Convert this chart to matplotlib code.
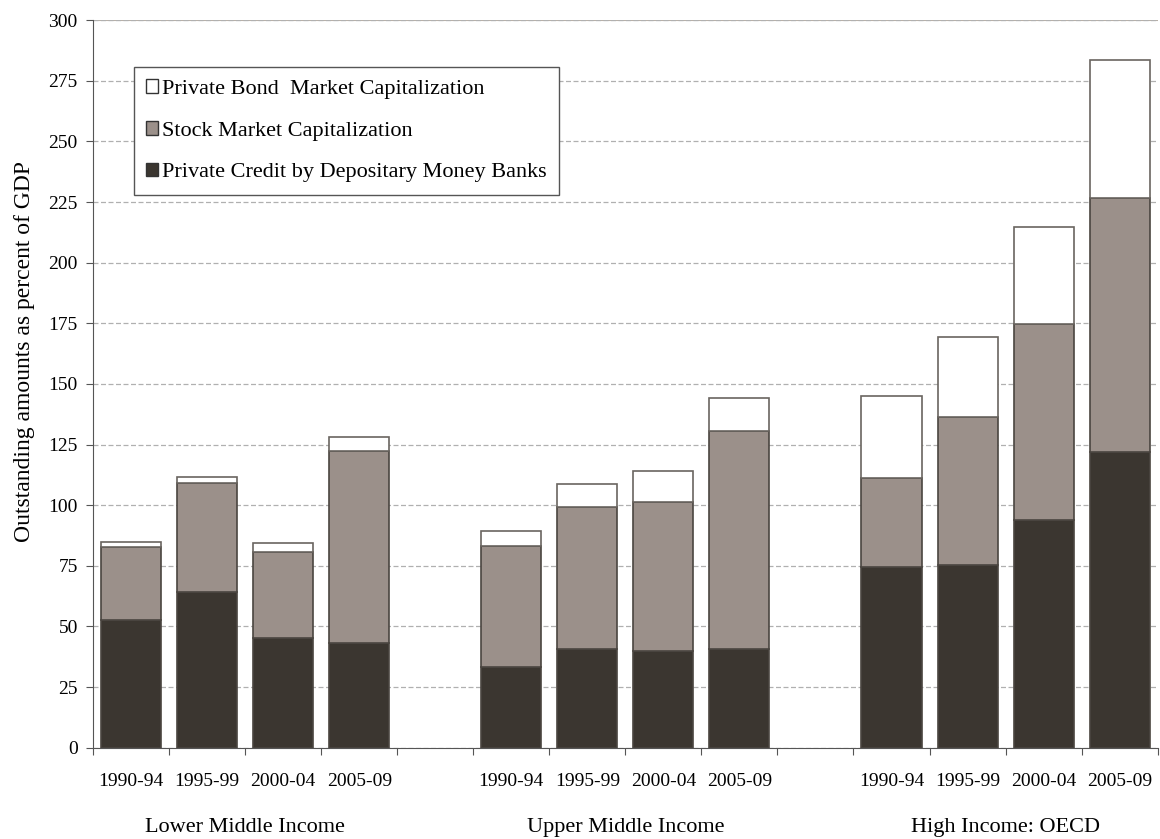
import matplotlib
matplotlib.use("Agg")
import matplotlib.pyplot as plt
import matplotlib.transforms as mtransforms
from matplotlib.patches import Patch

plt.rcParams['font.family'] = ['Liberation Serif', 'DejaVu Serif']

periods = ['1990-94', '1995-99', '2000-04', '2005-09']
groups = ['Lower Middle Income', 'Upper Middle Income', 'High Income: OECD']

# components, percent of GDP (4 periods per group)
credit = [52.7, 64.4, 45.1, 43.1, 33.2, 40.6, 40.0, 40.6, 74.7, 75.5, 93.8, 122.1]
stock = [30.0, 44.9, 35.8, 79.4, 50.0, 58.6, 61.4, 89.8, 36.7, 60.8, 81.1, 104.5]
bond = [2.3, 2.5, 3.7, 5.8, 6.2, 9.5, 12.9, 13.6, 33.7, 33.1, 39.9, 57.0]

c_credit = '#3b3630'
c_stock = '#9b908a'
c_bond = '#ffffff'
edge = '#4a4540'

# one empty category between the groups
xpos = []
for g in range(len(groups)):
    for p in range(len(periods)):
        xpos.append(g * 5 + p)

fig = plt.figure(figsize=(11.6, 8.39), dpi=100)
ax = fig.add_axes([0.0802, 0.1088, 0.9178, 0.8672])

w = 0.79
ax.bar(xpos, credit, w, color=c_credit, edgecolor=edge, linewidth=1.2, zorder=3)
ax.bar(xpos, stock, w, bottom=credit, color=c_stock, edgecolor=edge, linewidth=1.2, zorder=3)
bottom3 = [a + b for a, b in zip(credit, stock)]
ax.bar(xpos, bond, w, bottom=bottom3, color=c_bond, edgecolor='#6a6560', linewidth=1.2, zorder=3)

ax.set_xlim(-0.5, 13.5)
ax.set_ylim(0, 300)
ax.set_yticks(range(0, 301, 25))
ax.tick_params(axis='y', labelsize=14, length=5, color='#555555', pad=6)

# ticks at category boundaries, labels at bar centres
ax.set_xticks([i - 0.5 for i in range(15)])
ax.set_xticklabels([])
ax.set_xticks(xpos, minor=True)
ax.set_xticklabels(periods * 3, minor=True, fontsize=14)
ax.tick_params(axis='x', which='major', length=5, color='#555555')
ax.tick_params(axis='x', which='minor', length=0, pad=18)

ax.yaxis.grid(True, linestyle=(0, (4, 2)), color='#b0b0b0', linewidth=0.9, zorder=0)
for s in ['top', 'right']:
    ax.spines[s].set_visible(False)
ax.spines['left'].set_color('#555555')
ax.spines['bottom'].set_color('#555555')
ax.axhline(300, color='#b8b0a8', linewidth=1.5, zorder=1)

trans = mtransforms.blended_transform_factory(ax.transData, fig.transFigure)
for g, name in enumerate(groups):
    ax.text(g * 5 + 1.5, 0.0143, name, transform=trans, ha='center', va='center', fontsize=16)

fig.text(25 / 1160, 1 - 351 / 839, 'Outstanding amounts as percent of GDP',
         rotation=90, ha='center', va='center', fontsize=17)

handles = [Patch(facecolor=c_bond, edgecolor='#333333', label='Private Bond  Market Capitalization'),
           Patch(facecolor=c_stock, edgecolor='#333333', label='Stock Market Capitalization'),
           Patch(facecolor=c_credit, edgecolor='#333333', label='Private Credit by Depositary Money Banks')]
leg = ax.legend(handles=handles, loc='upper left', bbox_to_anchor=(0.0385, 0.9354),
                fontsize=16, handlelength=0.55, handleheight=0.55, handletextpad=0.15,
                labelspacing=1.0, borderpad=0.55, fancybox=False, framealpha=1,
                edgecolor='#555555', borderaxespad=0)
leg.get_frame().set_linewidth(1.0)

fig.savefig('out.png', dpi=100)
